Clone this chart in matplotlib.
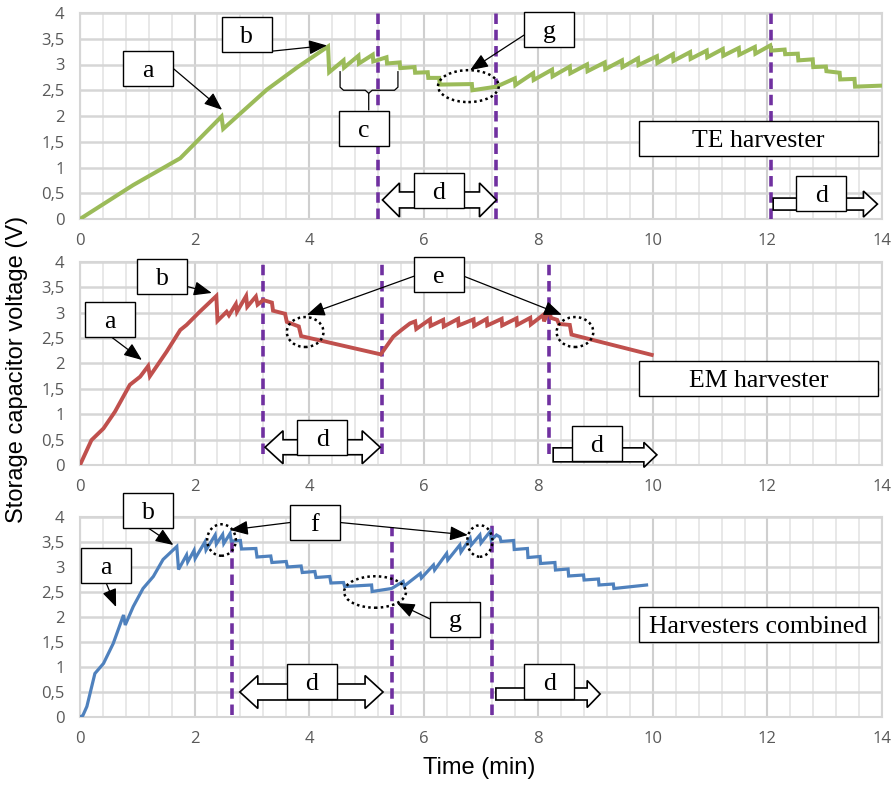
import matplotlib
matplotlib.use('Agg')
import matplotlib.pyplot as plt
from matplotlib.patches import Rectangle, Ellipse, Polygon

# ---------------- data ----------------
te_time = [0, 0.93, 1.75, 2.47, 2.50, 3.26, 3.80, 4.33, 4.35, 4.60, 4.61, 4.86, 4.87, 5.11, 5.12,
           5.35, 5.36, 5.58, 5.59, 5.84, 5.85, 6.07, 6.08, 6.27, 6.28, 6.84, 6.85, 7.27,
           7.59, 7.60, 7.91, 7.92, 8.24, 8.25, 8.55, 8.56, 8.85, 8.86, 9.16, 9.17, 9.46, 9.47,
           9.74, 9.75, 10.07, 10.08, 10.35, 10.36, 10.65, 10.66, 10.94, 10.95, 11.22, 11.23,
           11.50, 11.51, 11.78, 11.79, 12.05, 12.07, 12.30, 12.31, 12.53, 12.54, 12.79, 12.80,
           13.02, 13.03, 13.26, 13.27, 13.52, 13.53, 14.0]
te_voltage = [0, 0.66, 1.18, 1.99, 1.75, 2.51, 2.95, 3.35, 2.85, 3.08, 2.94, 3.17, 3.02, 3.19, 3.06,
              3.14, 3.02, 3.04, 2.93, 2.95, 2.84, 2.85, 2.74, 2.74, 2.61, 2.62, 2.50, 2.57,
              2.73, 2.60, 2.83, 2.70, 2.90, 2.77, 2.96, 2.83, 3.00, 2.87, 3.04, 2.91, 3.08, 2.95,
              3.12, 2.99, 3.16, 3.03, 3.20, 3.07, 3.24, 3.11, 3.27, 3.14, 3.30, 3.17,
              3.32, 3.19, 3.34, 3.21, 3.37, 3.27, 3.29, 3.20, 3.21, 3.08, 3.10, 2.95,
              2.96, 2.87, 2.84, 2.71, 2.72, 2.57, 2.59]

em_time = [0, 0.20, 0.41, 0.61, 0.87, 1.05, 1.19, 1.22, 1.51, 1.75, 1.86, 2.09, 2.38, 2.40,
           2.56, 2.60, 2.72, 2.74, 2.90, 2.92, 3.07, 3.10, 3.20, 3.35, 3.37, 3.58, 3.61, 3.82, 3.86,
           5.25, 5.47, 5.61, 5.76, 5.85, 5.87, 6.11, 6.12, 6.34, 6.35, 6.60, 6.61, 6.87, 6.88,
           7.10, 7.11, 7.36, 7.37, 7.62, 7.63, 7.86, 7.87, 8.09, 8.10, 8.19, 8.22, 8.33, 8.36,
           8.55, 8.58, 9.98]
em_voltage = [0, 0.49, 0.72, 1.05, 1.58, 1.74, 1.95, 1.75, 2.23, 2.66, 2.76, 3.02, 3.33, 2.84,
              3.02, 2.95, 3.17, 3.02, 3.33, 3.12, 3.32, 3.16, 3.25, 3.20, 3.04, 2.98, 2.82, 2.73, 2.54,
              2.18, 2.53, 2.66, 2.79, 2.83, 2.68, 2.87, 2.74, 2.86, 2.73, 2.88, 2.75, 2.87, 2.74,
              2.88, 2.75, 2.88, 2.75, 2.89, 2.76, 2.90, 2.77, 2.96, 2.83, 3.06, 2.90, 2.86, 2.78,
              2.76, 2.57, 2.17]

comb_time = [0, 0.05, 0.12, 0.26, 0.41, 0.58, 0.76, 0.79, 0.93, 1.10, 1.28, 1.45, 1.69, 1.72,
             1.86, 1.88, 1.99, 2.01, 2.18, 2.20, 2.36, 2.38, 2.49, 2.51, 2.62, 2.64, 2.80, 2.82,
             3.07, 3.09, 3.33, 3.35, 3.60, 3.62, 3.86, 3.88, 4.10, 4.12, 4.36, 4.38, 4.60, 4.62,
             5.09, 5.10, 5.44, 5.64, 5.66, 5.94, 5.96, 6.17, 6.19, 6.40, 6.42, 6.63, 6.65, 6.81,
             6.83, 6.98, 7.00, 7.16, 7.18, 7.27, 7.33, 7.35, 7.57, 7.58, 7.81, 7.82, 8.03, 8.04,
             8.29, 8.30, 8.52, 8.53, 8.79, 8.80, 9.05, 9.06, 9.31, 9.32, 9.89]
comb_voltage = [0, 0.03, 0.21, 0.87, 1.07, 1.47, 2.04, 1.84, 2.21, 2.57, 2.81, 3.15, 3.41, 2.95,
                3.24, 3.10, 3.33, 3.17, 3.50, 3.34, 3.64, 3.46, 3.65, 3.47, 3.67, 3.52, 3.53, 3.36,
                3.37, 3.20, 3.22, 3.09, 3.11, 3.00, 3.02, 2.89, 2.91, 2.79, 2.81, 2.68, 2.69, 2.61,
                2.64, 2.51, 2.57, 2.71, 2.62, 2.87, 2.78, 3.04, 2.94, 3.27, 3.14, 3.44, 3.30, 3.57,
                3.44, 3.64, 3.48, 3.71, 3.54, 3.64, 3.60, 3.51, 3.53, 3.35, 3.37, 3.19, 3.21, 3.07,
                3.09, 2.94, 2.96, 2.82, 2.84, 2.74, 2.76, 2.64, 2.66, 2.57, 2.64]

x_ticks = [0, 2, 4, 6, 8, 10, 12, 14]
y_ticks = [0, 0.5, 1, 1.5, 2, 2.5, 3, 3.5, 4]
y_tick_labels = ['0', '0,5', '1', '1,5', '2', '2,5', '3', '3,5', '4']
panel_labels = ['TE harvester', 'EM harvester', 'Harvesters combined']
x_label = 'Time (min)'
y_label = 'Storage capacitor voltage (V)'

series_colors = ['#9BBB59', '#C0504D', '#4F81BD']
PURPLE = '#7030A0'

W, H = 896, 785
fig = plt.figure(figsize=(W / 100, H / 100), dpi=100)

positions = [(80, 13, 219), (80, 262, 465), (80, 517, 717)]
axes = []
for (l, t, b) in positions:
    ax = fig.add_axes([l / W, 1 - b / H, 802 / W, (b - t) / H])
    axes.append(ax)

def style(ax):
    ax.set_xlim(0, 14)
    ax.set_ylim(0, 4)
    ax.set_xticks(x_ticks)
    ax.set_xticklabels([str(v) for v in x_ticks])
    ax.set_xticks([v * 0.4 for v in range(36)], minor=True)
    ax.set_yticks(y_ticks)
    ax.set_yticklabels(y_tick_labels)
    ax.tick_params(which='both', length=0)
    ax.tick_params(axis='x', pad=10, labelsize=12, labelcolor='#595959')
    ax.tick_params(axis='y', pad=11, labelsize=12, labelcolor='#595959')
    for lab in ax.get_xticklabels() + ax.get_yticklabels():
        lab.set_family('Open Sans')
    ax.grid(True, which='minor', axis='x', color='#E4E4E4', lw=1.2)
    ax.grid(True, which='major', axis='x', color='#CFCFCF', lw=1.5)
    ax.grid(True, which='major', axis='y', color='#D6D6D6', lw=1.8)
    for s in ax.spines.values():
        s.set_color('#D6D6D6')
        s.set_linewidth(1.5)
    ax.set_axisbelow(True)

for ax in axes:
    style(ax)

def dx(ax, px):
    return px * 14 / (ax.get_position().width * W)

def dy(ax, py):
    return py * 4 / (ax.get_position().height * H)

def box(ax, xc, yc, wpx, hpx, text):
    w, h = dx(ax, wpx), dy(ax, hpx)
    ax.add_patch(Rectangle((xc - w / 2, yc - h / 2), w, h, fc='white', ec='black',
                           lw=1.0, zorder=8, clip_on=False))
    ax.text(xc, yc - h / 2 + dy(ax, 9), text, ha='center', va='baseline', fontsize=18.5,
            family='Liberation Serif', zorder=9, clip_on=False)

def arrow(ax, start, tip):
    ax.annotate('', xy=tip, xytext=start, annotation_clip=False, zorder=7,
                arrowprops=dict(arrowstyle='-|>,head_length=0.55,head_width=0.22',
                                mutation_scale=20, color='black', lw=0.9,
                                shrinkA=0, shrinkB=0))

def ellipse(ax, xc, yc, w, h):
    ax.add_patch(Ellipse((xc, yc), w, h, fill=False, ec='black', lw=1.8,
                         ls=(0, (1, 1.3)), zorder=6, clip_on=False))

def vdash(ax, x, y0=0, y1=4):
    ax.plot([x, x], [y0, y1], color=PURPLE, lw=2.6, ls=(0, (2.9, 1.6)), zorder=4,
            clip_on=False)

def block_arrow(ax, xl, xr, yc, hl_px, hh_px, sh_px, double=True):
    hl, hh, sh = dx(ax, hl_px), dy(ax, hh_px), dy(ax, sh_px)
    if double:
        pts = [(xl, yc), (xl + hl, yc + hh), (xl + hl, yc + sh), (xr - hl, yc + sh),
               (xr - hl, yc + hh), (xr, yc), (xr - hl, yc - hh), (xr - hl, yc - sh),
               (xl + hl, yc - sh), (xl + hl, yc - hh)]
    else:
        pts = [(xl, yc + sh), (xr - hl, yc + sh), (xr - hl, yc + hh), (xr, yc),
               (xr - hl, yc - hh), (xr - hl, yc - sh), (xl, yc - sh)]
    ax.add_patch(Polygon(pts, closed=True, fc='white', ec='black', lw=1.2, zorder=7,
                         clip_on=False))

# ---------------- series ----------------
ax1, ax2, ax3 = axes
ax1.plot(te_time, te_voltage, color=series_colors[0], lw=2.9, zorder=5, solid_joinstyle='miter')
ax2.plot(em_time, em_voltage, color=series_colors[1], lw=2.8, zorder=5, solid_joinstyle='miter')
ax3.plot(comb_time, comb_voltage, color=series_colors[2], lw=2.3, zorder=5, solid_joinstyle='miter')

# ---------------- panel 1 annotations ----------------
vdash(ax1, 5.20)
vdash(ax1, 7.27)
vdash(ax1, 12.07)
box(ax1, 1.19, 2.92, 50, 35, 'a')
arrow(ax1, (1.62, 2.93), (2.48, 2.12))
box(ax1, 2.91, 3.58, 50, 35, 'b')
arrow(ax1, (3.36, 3.26), (4.31, 3.37))
# bracket c
ax1.plot([4.54, 4.54, 4.60, 4.98, 5.04, 5.04], [2.86, 2.56, 2.50, 2.50, 2.44, 2.12],
         color='black', lw=0.9, zorder=6)
ax1.plot([5.55, 5.55, 5.49, 5.10, 5.04], [2.86, 2.56, 2.50, 2.50, 2.44],
         color='black', lw=0.9, zorder=6)
box(ax1, 4.96, 1.76, 50, 35, 'c')
box(ax1, 8.19, 3.68, 50, 35, 'g')
arrow(ax1, (7.75, 3.57), (6.81, 2.89))
ellipse(ax1, 6.78, 2.58, 1.06, 0.62)
block_arrow(ax1, 5.28, 7.27, 0.37, 17, 17, 8)
box(ax1, 6.26, 0.55, 50, 35, 'd')
block_arrow(ax1, 12.10, 13.92, 0.29, 14, 13, 6, double=False)
box(ax1, 12.94, 0.50, 50, 35, 'd')
box(ax1, 11.84, 1.56, 239, 35, panel_labels[0])

# ---------------- panel 2 annotations ----------------
vdash(ax2, 3.20, 0.22)
vdash(ax2, 5.27, 0.22)
vdash(ax2, 8.19, 0.22)
box(ax2, 0.53, 2.87, 50, 35, 'a')
arrow(ax2, (0.55, 2.52), (1.08, 2.07))
box(ax2, 1.43, 3.72, 50, 35, 'b')
arrow(ax2, (1.86, 3.52), (2.30, 3.39))
box(ax2, 6.27, 3.75, 50, 35, 'e')
arrow(ax2, (5.83, 3.72), (3.96, 2.96))
arrow(ax2, (6.70, 3.72), (8.41, 2.96))
ellipse(ax2, 3.93, 2.62, 0.64, 0.59)
ellipse(ax2, 8.64, 2.62, 0.64, 0.59)
block_arrow(ax2, 3.23, 5.24, 0.35, 18, 16.5, 7.5)
box(ax2, 4.23, 0.55, 50, 35, 'd')
block_arrow(ax2, 8.26, 10.07, 0.20, 13, 12.5, 7, double=False)
box(ax2, 9.02, 0.43, 50, 35, 'd')
box(ax2, 11.84, 1.70, 239, 35, panel_labels[1])

# ---------------- panel 3 annotations ----------------
vdash(ax3, 2.66, 0.05, 3.54)
vdash(ax3, 5.45, 0.05, 3.80)
vdash(ax3, 7.19, 0.05, 3.84)
box(ax3, 0.45, 3.04, 50, 35, 'a')
arrow(ax3, (0.45, 2.70), (0.63, 2.20))
box(ax3, 1.19, 4.13, 50, 35, 'b')
arrow(ax3, (1.19, 3.78), (1.63, 3.44))
box(ax3, 4.10, 3.89, 50, 35, 'f')
arrow(ax3, (3.67, 3.89), (2.62, 3.74))
arrow(ax3, (4.54, 3.89), (6.77, 3.64))
ellipse(ax3, 2.47, 3.54, 0.50, 0.63)
ellipse(ax3, 6.98, 3.52, 0.44, 0.63)
ellipse(ax3, 5.15, 2.50, 1.08, 0.63)
box(ax3, 6.55, 1.96, 50, 35, 'g')
arrow(ax3, (6.11, 1.96), (5.53, 2.28))
block_arrow(ax3, 2.79, 5.29, 0.50, 18, 16.5, 8)
box(ax3, 4.05, 0.71, 50, 35, 'd')
block_arrow(ax3, 7.26, 9.08, 0.46, 13, 13.5, 6, double=False)
box(ax3, 8.19, 0.72, 50, 35, 'd')
box(ax3, 11.84, 1.85, 239, 35, panel_labels[2])

# ---------------- axis titles ----------------
fig.text(479 / W, 1 - 768 / H, x_label, ha='center', va='center', fontsize=17,
         family='Liberation Sans')
fig.text(17 / W, 1 - 369 / H, y_label, ha='center', va='center', fontsize=17,
         rotation=90, family='Liberation Sans')

fig.savefig('out.png', dpi=100)
